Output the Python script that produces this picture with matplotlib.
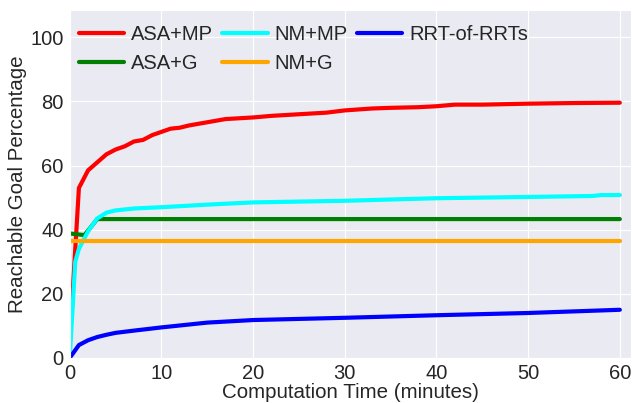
import matplotlib
matplotlib.use("Agg")
import matplotlib.pyplot as plt
import seaborn as sns

sns.set_style("darkgrid")
plt.rcParams['font.family'] = ['Liberation Sans', 'DejaVu Sans']

t_asa_mp = [0, 1, 2, 3, 4, 5, 6, 7, 8, 9, 10, 11, 12, 13, 15, 17, 20, 22, 25, 28, 30, 33, 35, 38, 40, 42, 45, 50, 55, 60]
asa_mp = [5, 53, 58.5, 61, 63.5, 65, 66, 67.5, 68, 69.5, 70.5, 71.5, 71.8, 72.5, 73.5, 74.5, 75, 75.5, 76, 76.5, 77.2, 77.8, 78, 78.2, 78.5, 79, 79, 79.3, 79.5, 79.6]

t_nm_mp = [0, 0.6, 1, 2, 3, 4, 5, 7, 10, 15, 20, 30, 40, 50, 57, 58, 60]
nm_mp = [0, 30, 34, 39.5, 43.5, 45.3, 46, 46.6, 47, 47.8, 48.5, 49, 49.8, 50.2, 50.5, 50.8, 50.8]

t_asa_g = [0, 1.6, 3, 60]
asa_g = [38.8, 38.3, 43.3, 43.3]

t_nm_g = [0, 60]
nm_g = [36.5, 36.5]

t_rrt = [0, 1, 2, 3, 4, 5, 7, 10, 15, 20, 30, 40, 50, 60]
rrt = [0, 4, 5.5, 6.5, 7.2, 7.8, 8.5, 9.5, 11, 11.8, 12.5, 13.3, 14, 15]

fig, ax = plt.subplots(figsize=(6.34, 4.03), dpi=100)
lw = 3
h1, = ax.plot(t_asa_mp, asa_mp, color='red', lw=lw, label='ASA+MP')
h2, = ax.plot(t_asa_g, asa_g, color='green', lw=lw, label='ASA+G')
h3, = ax.plot(t_nm_mp, nm_mp, color='cyan', lw=lw, label='NM+MP')
h4, = ax.plot(t_nm_g, nm_g, color='orange', lw=lw, label='NM+G')
h5, = ax.plot(t_rrt, rrt, color='blue', lw=lw, label='RRT-of-RRTs')

ax.set_xlim(0, 61.2)
ax.set_ylim(0, 108.5)
ax.set_xticks([0, 10, 20, 30, 40, 50, 60])
ax.set_yticks([0, 20, 40, 60, 80, 100])
ax.tick_params(labelsize=14.5, pad=1)
ax.set_xlabel('Computation Time (minutes)', fontsize=14.8, labelpad=0)
ax.set_ylabel('Reachable Goal Percentage', fontsize=14.8, labelpad=2)
ax.legend(handles=[h1, h2, h3, h4, h5], ncol=3, loc='upper left', fontsize=14.5,
          frameon=False, handlelength=2.25, columnspacing=0.45, handletextpad=0.35,
          bbox_to_anchor=(-0.016, 1.01), labelspacing=0.5)
fig.subplots_adjust(left=0.11, right=0.995, top=0.975, bottom=0.112)
fig.savefig('out.png', dpi=100)
